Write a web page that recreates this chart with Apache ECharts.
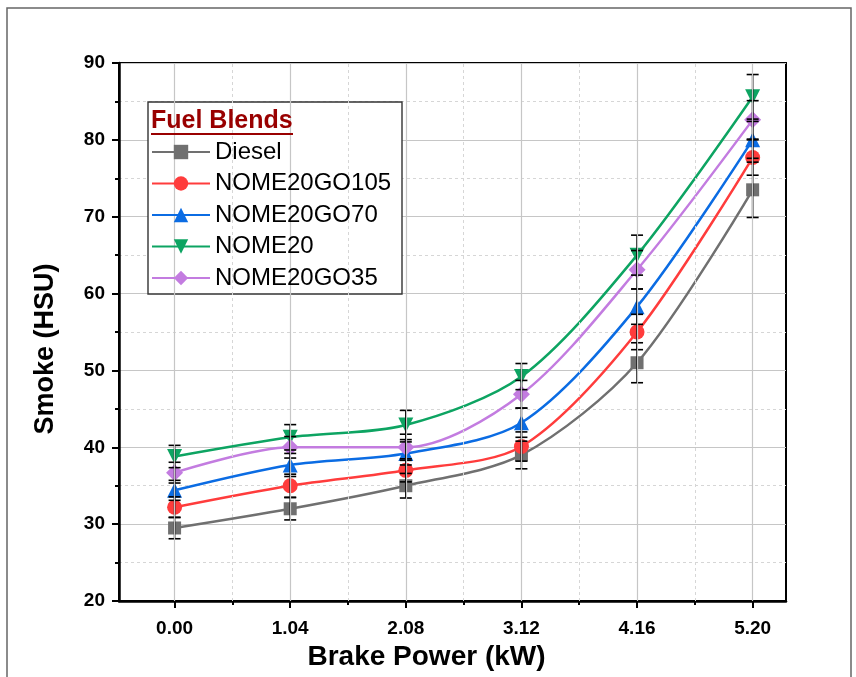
<!DOCTYPE html>
<html><head><meta charset="utf-8">
<script src="https://cdn.jsdelivr.net/npm/echarts@6/dist/echarts.min.js"></script>
<style>html,body{margin:0;padding:0;background:#fff}#c{width:856px;height:677px}</style>
</head><body><div id="c"></div>
<script>
const powers = [0.00, 1.04, 2.08, 3.12, 4.16, 5.20];
const minorPowers = [0.52, 1.56, 2.60, 3.64, 4.68];
const names = ['Diesel', 'NOME20GO105', 'NOME20GO70', 'NOME20', 'NOME20GO35'];
const diesel = [29.5, 32.0, 35.0, 39.0, 51.0, 73.5];
const nome20go105 = [32.2, 35.0, 37.0, 40.1, 55.0, 77.7];
const nome20go70 = [34.4, 37.7, 39.2, 43.2, 58.3, 80.0];
const nome20 = [38.8, 41.3, 42.9, 49.2, 65.0, 85.6];
const nome20go35 = [36.7, 40.0, 40.0, 46.9, 63.1, 82.6];
const errDiesel = [1.4, 1.45, 1.6, 1.8, 2.6, 3.6];
const errGo105 = [1.35, 1.5, 1.5, 1.9, 2.3, 2.3];
const errGo70 = [1.3, 1.5, 1.5, 1.9, 2.3, 2.4];
const errNome20 = [1.45, 1.65, 1.9, 1.7, 2.6, 2.9];
const errGo35 = [1.35, 1.4, 1.7, 1.8, 2.5, 2.5];
const yTicks = [20, 30, 40, 50, 60, 70, 80, 90];

const values = [diesel, nome20go105, nome20go70, nome20, nome20go35];
const errs = [errDiesel, errGo105, errGo70, errNome20, errGo35];
const colors = ['#707070', '#FF3C3C', '#0B6CE3', '#0DA462', '#C37CE0'];
const symbols = ['rect', 'circle', 'triangle', 'triangle', 'diamond'];
const sizes = [13, 15, 15, 15, 17];
const rotates = [0, 0, 0, 180, 0];
const FONT = '"Liberation Sans", Arial, sans-serif';

const chart = echarts.init(document.getElementById('c'), null, {renderer: 'canvas'});
const series = [];
series.push({
  name: 'gridMajor', type: 'line', data: [], z: 1, silent: true,
  markLine: {silent: true, symbol: 'none', label: {show: false}, animation: false,
    lineStyle: {color: '#c6c6c6', width: 1.2, type: 'solid'},
    data: powers.map(p => ({xAxis: p}))}
});
series.push({
  name: 'gridMinor', type: 'line', data: [], z: 1, silent: true,
  markLine: {silent: true, symbol: 'none', label: {show: false}, animation: false,
    lineStyle: {color: '#d6d6d6', width: 1, type: [3, 3]},
    data: minorPowers.map(p => ({xAxis: p}))}
});
names.forEach((n, i) => {
  series.push({
    name: n, type: 'line', smooth: 0.3,
    data: powers.map((p, j) => [p, values[i][j]]),
    symbol: symbols[i], symbolSize: sizes[i], symbolRotate: rotates[i],
    lineStyle: {color: colors[i], width: 2.5},
    itemStyle: {color: colors[i]},
    z: 3
  });
});
names.forEach((n, i) => {
  series.push({
    name: n + '_err', type: 'custom',
    data: powers.map((p, j) => [p, values[i][j], errs[i][j]]),
    encode: {x: 0, y: 1},
    z: 4, silent: true,
    renderItem: function (params, api) {
      const x = api.value(0), y = api.value(1), e = api.value(2);
      const top = api.coord([x, y + e]);
      const bot = api.coord([x, y - e]);
      const w = 6;
      const st = {stroke: '#000', lineWidth: 1.6};
      return {type: 'group', children: [
        {type: 'line', shape: {x1: top[0], y1: top[1], x2: bot[0], y2: bot[1]}, style: st},
        {type: 'line', shape: {x1: top[0]-w, y1: top[1], x2: top[0]+w, y2: top[1]}, style: st},
        {type: 'line', shape: {x1: bot[0]-w, y1: bot[1], x2: bot[0]+w, y2: bot[1]}, style: st}
      ]};
    }
  });
});

chart.setOption({
  animation: false,
  backgroundColor: '#fff',
  grid: {left: 119, top: 63, right: 70, bottom: 76, show: true, borderColor: '#000', borderWidth: 2, backgroundColor: 'transparent'},
  xAxis: [{
    type: 'value', min: -0.5, max: 5.5,
    name: 'Brake Power (kW)', nameLocation: 'middle', nameGap: 42,
    nameTextStyle: {fontFamily: FONT, fontWeight: 'bold', fontSize: 28, color: '#000', padding: [0, 52, 0, 0]},
    axisLine: {show: true, onZero: false, lineStyle: {color: '#000', width: 2.5}},
    axisTick: {show: true, inside: false, length: 7, lineStyle: {color: '#000', width: 2}, customValues: powers},
    axisLabel: {customValues: powers, formatter: v => v.toFixed(2), fontFamily: FONT, fontWeight: 'bold', fontSize: 19, color: '#000', margin: 18},
    splitLine: {show: false},
    minorTick: {show: false}, minorSplitLine: {show: false}
  }, {
    type: 'value', min: -0.5, max: 5.5, position: 'bottom',
    axisLine: {show: false, onZero: false},
    axisTick: {show: true, inside: false, length: 4, lineStyle: {color: '#000', width: 2}, customValues: minorPowers},
    axisLabel: {show: false, customValues: minorPowers},
    splitLine: {show: false}
  }],
  yAxis: {
    type: 'value', min: yTicks[0], max: yTicks[yTicks.length - 1], interval: 10,
    name: 'Smoke (HSU)', nameLocation: 'middle', nameGap: 60,
    nameTextStyle: {fontFamily: FONT, fontWeight: 'bold', fontSize: 27, color: '#000', padding: [0, 34, 0, 0]},
    axisLine: {show: true, onZero: false, lineStyle: {color: '#000', width: 2.5}},
    axisTick: {show: true, inside: false, length: 7, lineStyle: {color: '#000', width: 2}},
    axisLabel: {fontFamily: FONT, fontWeight: 'bold', fontSize: 19, color: '#000', margin: 14},
    splitLine: {show: true, lineStyle: {color: '#c6c6c6', width: 1.2}},
    minorTick: {show: true, splitNumber: 2, length: 4, lineStyle: {color: '#000', width: 2}},
    minorSplitLine: {show: true, lineStyle: {color: '#d6d6d6', width: 1, type: [3, 3]}}
  },
  legend: {
    data: names, orient: 'vertical', left: 151, top: 140, padding: 0,
    itemWidth: 58, itemHeight: 18, itemGap: 7.5, z: 10,
    textStyle: {fontFamily: FONT, fontSize: 24, color: '#000', lineHeight: 24}
  },
  graphic: [
    {type: 'rect', z: 5, shape: {x: 148, y: 102, width: 254, height: 192}, style: {fill: '#fff', stroke: '#333', lineWidth: 1.4}},
    {type: 'text', z: 11, left: 151, top: 109, style: {text: 'Fuel Blends', fill: '#990000', font: 'bold 25px "Liberation Sans", Arial, sans-serif'}},
    {type: 'line', z: 11, shape: {x1: 151, y1: 134, x2: 293, y2: 134}, style: {stroke: '#990000', lineWidth: 2.2}},
    {type: 'rect', z: -1, silent: true, shape: {x: 7, y: 8, width: 844, height: 680}, style: {fill: 'none', stroke: '#666', lineWidth: 1.5}}
  ],
  series: series
});
</script>
</body></html>
